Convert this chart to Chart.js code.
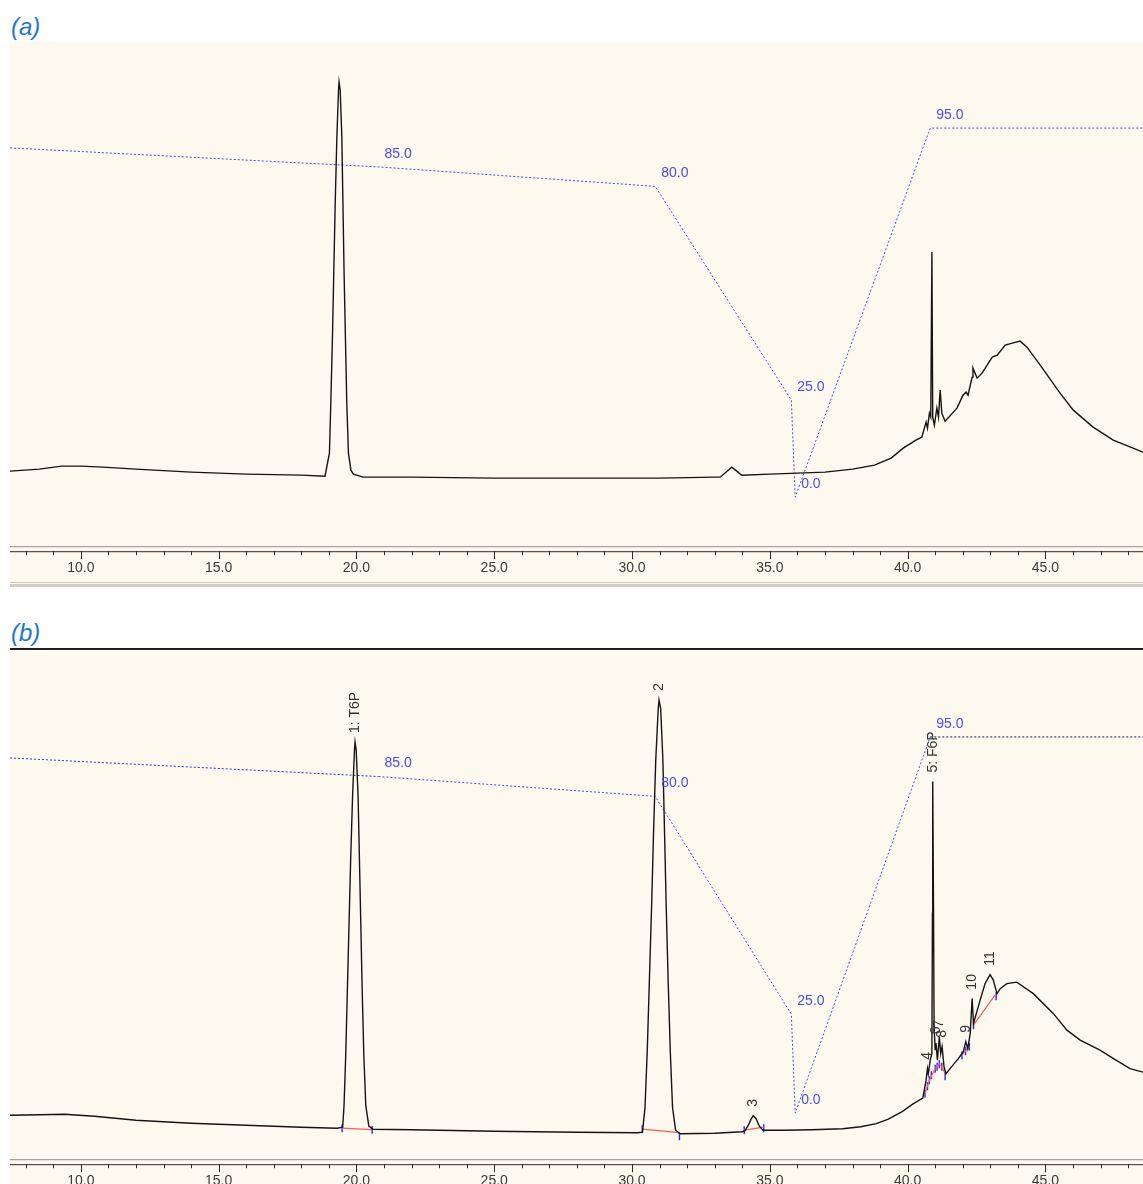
<!DOCTYPE html>
<html>
<head>
<meta charset="utf-8">
<script src="https://cdn.jsdelivr.net/npm/chart.js@4.4.1/dist/chart.umd.min.js"></script>
<style>
  html, body { margin: 0; padding: 0; background: #fff; width: 1143px; height: 1184px; overflow: hidden; }
  .tag { position: absolute; left: 11px; font: italic 24px/24px Arial, "Liberation Sans", sans-serif; color: #1f76cf; }
  .panel { position: absolute; left: 10px; width: 1133px; background: #fdf9ee; }
  #rule { position: absolute; left: 10px; top: 648px; width: 1133px; height: 2px; background: #1e1e1e; }
</style>
</head>
<body>
<div class="tag" style="top:15px">(a)</div>
<div class="panel" style="top:42px;height:546px"><canvas id="chartA"></canvas></div>
<div class="tag" style="top:621px">(b)</div>
<div id="rule"></div>
<div class="panel" style="top:651px;height:550px"><canvas id="chartB"></canvas></div>

<script>
// --- DATA ---
// retention time axis (min)
const X_MIN = 7.43, X_MAX = 48.54;

// (a) detector trace
const timeA = [7.43, 8.5, 9.3, 10.0, 10.8, 12.0, 14.0, 16.0, 18.0, 18.86,
  19.02, 19.07, 19.13, 19.18, 19.23, 19.29, 19.35, 19.37, 19.41, 19.47, 19.51, 19.55, 19.60, 19.65, 19.71, 19.80, 19.89, 20.24,
  22.0, 25.0, 28.0, 31.0, 33.0, 33.20, 33.45, 33.62, 33.80, 33.98, 35.0, 36.0, 37.0, 38.0, 38.8, 39.4, 39.84, 40.3,
  40.515, 40.67, 40.72, 40.79, 40.84, 40.88, 40.91, 40.97, 41.06, 41.12, 41.18, 41.24, 41.36, 41.79,
  42.01, 42.12, 42.19, 42.34, 42.37, 42.52, 42.70, 43.07, 43.25, 43.54, 43.80, 44.08, 44.33, 44.81,
  45.53, 46.01, 46.73, 47.46, 48.18, 48.54];
const signalA = [16.0, 16.4, 17.0, 17.0, 16.8, 16.4, 15.8, 15.4, 15.2, 15.0,
  19.6, 29.6, 42.8, 56.2, 69.6, 82.8, 92.2, 93.8, 92.2, 82.8, 69.6, 56.2, 42.8, 29.6, 19.6, 16.2, 15.4, 14.8,
  14.8, 14.6, 14.6, 14.6, 14.8, 14.8, 16.0, 16.8, 16.0, 15.2, 15.4, 15.6, 15.8, 16.4, 17.2, 18.6, 20.6, 22.2,
  22.8, 25.8, 24.6, 27.6, 26.8, 59.8, 26.8, 25.2, 28.6, 26.8, 32.2, 27.6, 26.0, 28.6,
  31.2, 31.8, 31.2, 34.8, 36.6, 34.6, 35.6, 38.8, 39.2, 41.2, 41.6, 42.0, 40.8, 37.2,
  31.6, 28.2, 24.8, 22.2, 20.6, 19.8];

// (b) detector trace
const timeB = [7.43, 8.5, 9.4, 10.5, 12.0, 14.0, 16.0, 18.0, 19.3,
  19.50, 19.55, 19.61, 19.67, 19.73, 19.79, 19.86, 19.93, 19.95, 19.99, 20.06, 20.11, 20.16, 20.21, 20.27, 20.34, 20.45, 20.6,
  22.0, 25.0, 28.0, 30.2, 30.38,
  30.47, 30.55, 30.63, 30.71, 30.78, 30.86, 30.95, 30.98, 31.04, 31.12, 31.18, 31.24, 31.31, 31.39, 31.47, 31.58, 31.75,
  33.0,
  34.00, 34.10, 34.22, 34.32, 34.40, 34.50, 34.62, 34.75, 35.0,
  35.49, 36.5, 37.64, 38.3, 38.86, 39.30, 39.80, 40.21, 40.55,
  40.67, 40.72, 40.75, 40.82, 40.88, 40.90, 40.91, 40.94, 40.96, 41.00, 41.03, 41.08, 41.15, 41.20, 41.25, 41.32, 41.39,
  41.54, 41.84, 42.02, 42.11, 42.18, 42.27, 42.34, 42.39, 42.49, 42.63, 42.81, 42.99, 43.11, 43.24, 43.36, 43.60, 43.96,
  44.56, 45.29, 45.78, 46.26, 46.98, 47.47, 48.07, 48.54];
const signalB = [9.8, 9.9, 10.0, 9.6, 8.8, 8.2, 7.8, 7.4, 7.2,
  7.4, 11.7, 21.5, 34.5, 47.6, 60.7, 73.6, 82.9, 84.4, 82.9, 73.6, 60.7, 47.6, 34.5, 21.5, 11.7, 7.6, 7.0,
  6.9, 6.6, 6.4, 6.3, 6.4,
  11.3, 22.3, 36.8, 51.5, 66.2, 80.7, 91.1, 92.8, 91.1, 80.7, 66.2, 51.5, 36.8, 22.3, 11.3, 6.8, 6.1,
  6.2,
  6.5, 6.7, 7.8, 9.0, 9.7, 9.1, 7.6, 6.8, 6.8,
  6.8, 6.9, 7.1, 7.5, 8.1, 9.0, 10.5, 12.1, 13.2,
  16.8, 19.1, 18.1, 20.8, 22.1, 50.2, 76.5, 50.2, 27.5, 22.8, 24.2, 20.8, 25.5, 22.1, 23.5, 19.5, 18.1,
  19.1, 21.1, 22.5, 24.5, 23.1, 26.1, 33.1, 28.1, 30.1, 32.8, 36.1, 37.9, 36.8, 34.1, 35.1, 36.1, 36.4,
  34.1, 30.1, 26.8, 24.8, 22.8, 21.1, 19.1, 18.4];

// eluent gradient (%), same program in both runs
const gradTime = [7.43, 20.8, 30.84, 35.78, 35.92, 40.82, 48.54];
const gradA = [89.9, 85.0, 80.0, 25.0, 0.0, 95.0, 95.0];
const gradB = [89.7, 85.0, 80.0, 25.0, 0.0, 95.0, 95.0];

// (b) integration: baselines (null = break), peak marks, peak names
const baseT = [19.48, 20.57, null, 30.37, 31.72, null, 34.07, 34.78, null,
  40.63, 40.79, 41.00, 41.15, 41.24, 41.36, null, 41.97, 42.24, null, 42.39, 43.21];
const baseV = [7.2, 6.9, null, 7.0, 6.3, null, 6.8, 7.4, null,
  14.1, 16.8, 19.1, 20.0, 19.5, 18.1, null, 21.8, 23.5, null, 27.8, 34.1];
const markT = [19.48, 20.57, 30.37, 31.72, 34.07, 34.78, 40.63, 40.72, 40.79, 40.86,
  41.00, 41.07, 41.15, 41.24, 41.36, 41.97, 42.10, 42.24, 42.39, 43.21];
const markV = [7.2, 6.9, 7.0, 5.6, 6.8, 7.2, 14.1, 15.6, 16.8, 17.8,
  19.1, 19.5, 20.0, 19.5, 17.6, 21.8, 22.6, 23.5, 27.8, 33.6];
const peakNames = ['1: T6P', '2', '3', '4', '5: F6P', '6', '7', '8', '9', '10', '11'];
const peakTime = [19.95, 30.98, 34.40, 40.72, 40.91, 41.03, 41.15, 41.25, 42.11, 42.34, 42.99];
const peakTop = [84.4, 92.8, 9.7, 19.1, 76.5, 24.2, 25.5, 23.5, 24.5, 33.1, 37.9];

// --- HELPERS ---
const pts = (xs, ys) => xs.map((t, i) => ({ x: t === null ? xs[i - 1] : t, y: ys[i] }));
const FONT = 'Arial, "Liberation Sans", sans-serif';

// axis strip drawn like the instrument software
const axisDecor = {
  id: 'axisDecor',
  afterDraw(chart) {
    const { ctx, chartArea: a, scales: { x } } = chart;
    const w = chart.width, h = chart.height;
    ctx.save();
    ctx.fillStyle = '#8e8e8e';
    ctx.fillRect(0, a.bottom - 5, w, 1);
    ctx.fillStyle = '#2b2b2b';
    ctx.fillRect(0, a.bottom, w, 1);
    for (let m = Math.ceil(x.min); m <= x.max; m++) {
      const px = Math.round(x.getPixelForValue(m));
      ctx.fillRect(px, a.bottom, 1, m % 5 === 0 ? 8 : 4);
    }
    ctx.fillStyle = '#c6c6c6';
    ctx.fillRect(0, h - 6, w, 1);
    ctx.fillStyle = '#d4d0c8';
    ctx.fillRect(0, h - 4, w, 3);
    ctx.restore();
  }
};

// numbers printed at the gradient break points
function gradLabels(dsIndex) {
  return {
    id: 'gradLabels',
    afterDatasetsDraw(chart) {
      const meta = chart.getDatasetMeta(dsIndex);
      const vals = chart.data.datasets[dsIndex].data;
      const ctx = chart.ctx;
      ctx.save();
      ctx.font = '14px ' + FONT;
      ctx.fillStyle = '#4b4bf2';
      ctx.textBaseline = 'middle';
      for (let i = 1; i < vals.length - 1; i++) {
        const p = meta.data[i];
        ctx.fillText(vals[i].y.toFixed(1), p.x + 6, p.y - 13);
      }
      ctx.restore();
    }
  };
}

// vertical peak names above each apex
const peakLabels = {
  id: 'peakLabels',
  afterDatasetsDraw(chart) {
    const { ctx, scales: { x, y } } = chart;
    ctx.save();
    ctx.font = '14px ' + FONT;
    ctx.fillStyle = '#333';
    ctx.textBaseline = 'middle';
    ctx.textAlign = 'left';
    peakNames.forEach((name, i) => {
      ctx.save();
      ctx.translate(x.getPixelForValue(peakTime[i]), y.getPixelForValue(peakTop[i]) - 9);
      ctx.rotate(-Math.PI / 2);
      ctx.fillText(name, 0, 0);
      ctx.restore();
    });
    ctx.restore();
  }
};

function xAxis() {
  return {
    type: 'linear', min: X_MIN, max: X_MAX, position: 'bottom',
    grid: { display: false, drawTicks: false },
    border: { display: false },
    ticks: {
      stepSize: 5, includeBounds: false, autoSkip: false, maxRotation: 0, padding: 9,
      color: '#3a3a3a', font: { family: FONT, size: 14 },
      callback: v => v.toFixed(1)
    }
  };
}

function baseOptions(sigMax, gMin, gMax) {
  return {
    responsive: true, maintainAspectRatio: false, animation: false, devicePixelRatio: 1,
    layout: { autoPadding: false, padding: { left: 0, right: 0, top: 0, bottom: 2 } },
    plugins: { legend: { display: false }, tooltip: { enabled: false } },
    elements: { point: { radius: 0 }, line: { tension: 0 } },
    scales: {
      x: xAxis(),
      y: { display: false, min: 0, max: sigMax },
      g: { display: false, min: gMin, max: gMax }
    }
  };
}

// --- CHART (a) ---
new Chart(document.getElementById('chartA'), {
  type: 'line',
  data: {
    datasets: [
      { data: pts(timeA, signalA), borderColor: '#141414', borderWidth: 1.4, yAxisID: 'y' },
      { data: pts(gradTime, gradA), borderColor: '#4b4bf2', borderWidth: 1, borderDash: [2, 2], yAxisID: 'g' }
    ]
  },
  options: baseOptions(101.8, -13.9, 117.15),
  plugins: [axisDecor, gradLabels(1)]
});

// --- CHART (b) ---
new Chart(document.getElementById('chartB'), {
  type: 'line',
  data: {
    datasets: [
      { data: pts(timeB, signalB), borderColor: '#141414', borderWidth: 1.4, yAxisID: 'y' },
      {
        data: pts(gradTime, gradB), borderWidth: 1, borderDash: [2, 2], yAxisID: 'g',
        borderColor: '#4b4bf2',
        segment: { borderColor: c => c.p0.parsed.x >= 40.8 ? '#1c1c5a' : (c.p1.parsed.x <= 21 ? '#2f2fe0' : '#4b4bf2') }
      },
      { data: pts(baseT, baseV), borderColor: '#ff5a5a', borderWidth: 1.2, spanGaps: false, yAxisID: 'y' },
      {
        data: pts(markT, markV), showLine: false, yAxisID: 'y',
        pointStyle: 'line', rotation: 90, pointRadius: 4, borderColor: '#2a2aff', pointBorderWidth: 1.4
      }
    ]
  },
  options: baseOptions(102.6, -12.9, 116.7),
  plugins: [axisDecor, gradLabels(1), peakLabels]
});
</script>
</body>
</html>
